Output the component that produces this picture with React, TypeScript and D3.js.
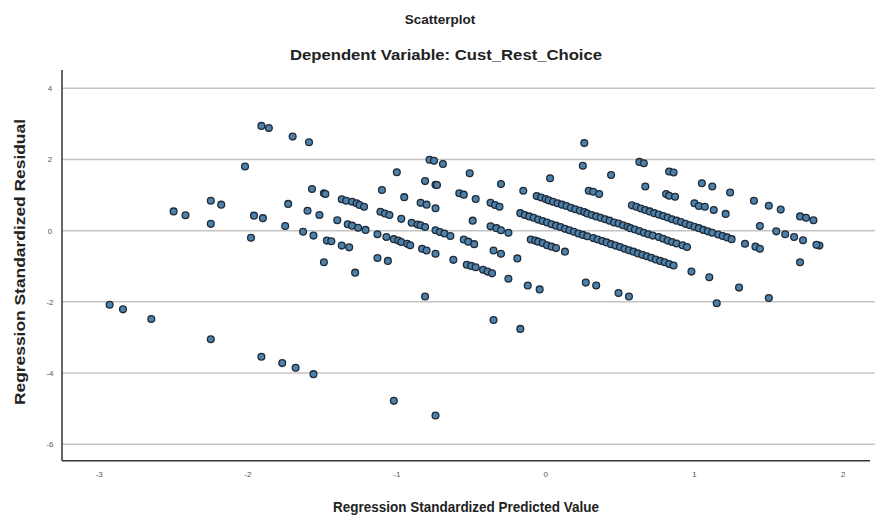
import React from 'react'
import { scaleLinear } from 'd3'

// scattered residuals [predicted, residual]
const spreadPoints: [number, number][] = [
  [-2.93, -2.08], [-2.84, -2.21], [-2.65, -2.48], [-2.25, -3.05], [-1.91, -3.54], [-1.77, -3.72],
  [-1.68, -3.85], [-1.56, -4.03], [-1.02, -4.78], [-0.74, -5.19],
  [-2.5, 0.54], [-2.42, 0.43], [-2.25, 0.84], [-2.18, 0.73], [-2.25, 0.19], [-2.02, 1.8],
  [-1.91, 2.94], [-1.86, 2.88], [-1.7, 2.64], [-1.59, 2.48],
  [-1.96, 0.42], [-1.9, 0.35], [-1.98, -0.2], [-1.73, 0.75], [-1.75, 0.13], [-1.6, 0.56],
  [-1.52, 0.44], [-1.63, -0.03], [-1.56, -0.14], [-1.57, 1.17], [-1.49, 1.05], [-1.48, 1.03],
  [-1.47, -0.28], [-1.44, -0.3], [-1.49, -0.89],
  [-1.37, 0.88], [-1.34, 0.84], [-1.3, 0.81], [-1.27, 0.77], [-1.25, 0.72], [-1.22, 0.67],
  [-1.4, 0.29], [-1.33, 0.18], [-1.3, 0.14], [-1.26, 0.08], [-1.21, 0.02],
  [-1.37, -0.42], [-1.32, -0.47], [-1.28, -1.18], [-1.13, -0.77], [-1.06, -0.85],
  [-1.1, 1.14], [-1.0, 1.64], [-0.95, 0.94], [-1.11, 0.53], [-1.08, 0.48], [-1.05, 0.44], [-0.97, 0.33],
  [-0.9, 0.22], [-0.86, 0.17], [-0.84, 0.15], [-0.81, 0.1],
  [-1.13, -0.1], [-1.07, -0.18], [-1.02, -0.24], [-0.99, -0.28], [-0.97, -0.32], [-0.93, -0.37], [-0.91, -0.41],
  [-0.83, -0.51], [-0.8, -0.56], [-0.74, -0.65], [-0.81, -1.85],
  [-0.84, 0.78], [-0.8, 0.73], [-0.78, 1.99], [-0.75, 1.96], [-0.69, 1.87], [-0.81, 1.39],
  [-0.74, 1.29], [-0.73, 1.28], [-0.74, 0.63],
  [-0.74, 0.01], [-0.71, -0.04], [-0.68, -0.08], [-0.64, -0.15],
  [-0.62, -0.82], [-0.53, -0.96], [-0.5, -0.99], [-0.47, -1.03], [-0.42, -1.1], [-0.39, -1.15],
  [-0.36, -1.2], [-0.25, -1.35],
  [-0.51, 1.61], [-0.58, 1.05], [-0.55, 1.01], [-0.47, 0.89], [-0.49, 0.28],
  [-0.55, -0.25], [-0.52, -0.31], [-0.48, -0.38],
  [-0.37, 0.78], [-0.34, 0.72], [-0.31, 0.67],
  [-0.37, 0.12], [-0.33, 0.07], [-0.3, 0.01], [-0.25, -0.06],
  [-0.35, -0.56], [-0.3, -0.65], [-0.19, -0.78], [-0.3, 1.31], [-0.15, 1.12],
  [-0.35, -2.51], [-0.17, -2.76], [-0.12, -1.54], [-0.04, -1.65],
  [-0.1, -0.25], [-0.07, -0.28], [-0.05, -0.31], [-0.02, -0.35], [0.01, -0.41], [0.04, -0.45],
  [0.07, -0.49], [0.13, -0.59],
  [0.03, 1.47], [0.26, 2.46], [0.25, 1.82], [0.44, 1.56], [0.29, 1.12], [0.32, 1.09], [0.36, 1.03],
  [0.27, -1.46], [0.34, -1.54], [0.49, -1.75], [0.56, -1.85],
  [0.63, 1.93], [0.66, 1.89], [0.67, 1.24], [0.83, 1.66], [0.86, 1.63], [0.81, 1.03], [0.83, 0.98], [0.87, 0.95],
  [1.05, 1.33], [1.12, 1.24], [1.24, 1.07], [1.4, 0.84], [1.5, 0.7], [1.58, 0.59], [1.71, 0.4],
  [1.75, 0.36], [1.8, 0.29],
  [1.0, 0.77], [1.03, 0.69], [1.07, 0.67], [1.13, 0.58], [1.21, 0.47], [1.44, 0.13],
  [1.55, -0.02], [1.61, -0.1], [1.67, -0.18], [1.73, -0.27], [1.84, -0.42], [1.82, -0.4],
  [1.34, -0.37], [1.41, -0.45], [1.44, -0.51],
  [0.98, -1.15], [1.1, -1.31], [1.3, -1.6], [1.71, -0.89], [1.5, -1.89], [1.15, -2.04],
]

// dense diagonal runs
const bandUpper: [number, number][] = [
  [-0.06, 0.97], [-0.03, 0.93], [0.0, 0.89], [0.02, 0.85], [0.05, 0.81], [0.08, 0.77], [0.11, 0.73],
  [0.14, 0.69], [0.17, 0.64], [0.2, 0.6], [0.23, 0.56], [0.26, 0.52], [0.28, 0.48], [0.31, 0.44],
  [0.34, 0.4], [0.37, 0.36], [0.4, 0.32], [0.43, 0.28], [0.46, 0.23], [0.49, 0.2], [0.52, 0.15],
  [0.55, 0.11], [0.57, 0.07], [0.6, 0.03], [0.63, -0.01], [0.66, -0.06], [0.69, -0.1], [0.72, -0.14],
  [0.76, -0.18], [0.79, -0.23], [0.82, -0.28], [0.85, -0.32], [0.88, -0.36], [0.92, -0.41], [0.95, -0.46],
]

const bandLower: [number, number][] = [
  [-0.17, 0.49], [-0.14, 0.44], [-0.11, 0.4], [-0.08, 0.36], [-0.05, 0.31], [-0.02, 0.27], [0.01, 0.23],
  [0.04, 0.18], [0.07, 0.14], [0.1, 0.1], [0.13, 0.05], [0.16, 0.01], [0.19, -0.03], [0.22, -0.08],
  [0.25, -0.12], [0.28, -0.16], [0.32, -0.21], [0.35, -0.25], [0.38, -0.29], [0.41, -0.33], [0.44, -0.38],
  [0.47, -0.42], [0.5, -0.46], [0.53, -0.51], [0.56, -0.55], [0.59, -0.59], [0.62, -0.64], [0.65, -0.68],
  [0.68, -0.72], [0.71, -0.76], [0.74, -0.81], [0.77, -0.85], [0.8, -0.89], [0.83, -0.94], [0.86, -0.98],
]

const bandRight: [number, number][] = [
  [0.58, 0.71], [0.61, 0.67], [0.64, 0.62], [0.67, 0.58], [0.7, 0.54], [0.73, 0.49], [0.76, 0.45],
  [0.79, 0.41], [0.82, 0.37], [0.85, 0.32], [0.88, 0.28], [0.91, 0.24], [0.94, 0.19], [0.97, 0.15],
  [1.0, 0.11], [1.03, 0.07], [1.06, 0.02], [1.09, -0.02], [1.12, -0.06], [1.16, -0.11], [1.19, -0.15],
  [1.22, -0.19], [1.25, -0.24],
]

const xTicks = [-3, -2, -1, 0, 1, 2]
const yTicks = [4, 2, 0, -2, -4, -6]

const chartTitle = 'Scatterplot'
const chartSubtitle = 'Dependent Variable: Cust_Rest_Choice'
const xTitle = 'Regression Standardized Predicted Value'
const yTitle = 'Regression Standardized Residual'

export default function App() {
  const width = 875
  const height = 518
  const plot = { left: 62, right: 870, top: 70, bottom: 460.7 }

  const x = scaleLinear().domain([-3.25, 2.18]).range([plot.left, plot.right])
  const y = scaleLinear().domain([-6.46, 4.51]).range([plot.bottom, plot.top])

  const allPoints = [...spreadPoints, ...bandUpper, ...bandLower, ...bandRight]
  const font = '"Liberation Sans", Arial, sans-serif'

  return (
    <svg width={width} height={height} style={{ position: 'absolute', left: 0, top: 0, background: '#fff' }}>
      <rect width={width} height={height} fill="#fff" />
      <text x={440} y={24} textAnchor="middle" fontFamily={font} fontSize={13.5} fontWeight="bold" fill="#222">
        {chartTitle}
      </text>
      <text x={446} y={60} textAnchor="middle" fontFamily={font} fontSize={14} fontWeight="bold" fill="#222"
        textLength={312} lengthAdjust="spacingAndGlyphs">
        {chartSubtitle}
      </text>

      {yTicks.map(t => (
        <g key={t}>
          <line x1={plot.left} x2={width} y1={y(t)} y2={y(t)} stroke="#c4c4c4" strokeWidth={1.5} />
          <text x={50} y={y(t) + 3} textAnchor="middle" fontFamily={font} fontSize={8} fill="#555">
            {t}
          </text>
        </g>
      ))}

      <line x1={plot.left} x2={plot.left} y1={plot.top} y2={plot.bottom} stroke="#333" strokeWidth={1.5} />
      <line x1={plot.left} x2={plot.right} y1={plot.bottom} y2={plot.bottom} stroke="#333" strokeWidth={1.5} />

      {xTicks.map(t => (
        <text key={t} x={x(t)} y={477} textAnchor="middle" fontFamily={font} fontSize={8} fill="#555">
          {t}
        </text>
      ))}

      <g>
        {allPoints.map((d, i) => (
          <circle key={i} cx={x(d[0])} cy={y(d[1])} r={3.4} fill="#4f80a8" stroke="#1c2b3b" strokeWidth={1.3} />
        ))}
      </g>

      <text x={466} y={512} textAnchor="middle" fontFamily={font} fontSize={14} fontWeight="bold" fill="#222"
        textLength={266} lengthAdjust="spacingAndGlyphs">
        {xTitle}
      </text>
      <text transform="translate(25,262) rotate(-90)" textAnchor="middle" fontFamily={font} fontSize={15}
        fontWeight="bold" fill="#222" textLength={286} lengthAdjust="spacingAndGlyphs">
        {yTitle}
      </text>
    </svg>
  )
}
